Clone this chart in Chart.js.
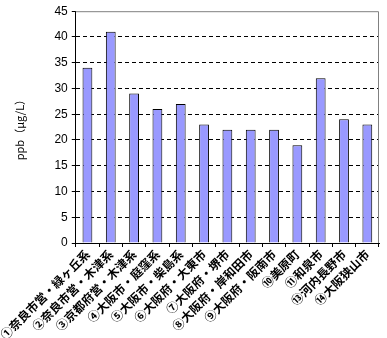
<!DOCTYPE html>
<html>
<head>
<meta charset="utf-8">
<script src="https://cdn.jsdelivr.net/npm/chart.js@4"></script>
<style>
  html, body { margin: 0; padding: 0; background: #fff; }
  #wrap { width: 387px; height: 338px; }
</style>
</head>
<body>
<div id="wrap"><canvas id="ppb-chart" width="387" height="338"></canvas></div>
<script>
const siteLabels = [
  "①奈良市営・緑ヶ丘系", "②奈良市営・木津系", "③京都府営・木津系",
  "④大阪市・庭窪系", "⑤大阪市・柴島系", "⑥大阪府・大東市",
  "⑦大阪府・堺市", "⑧大阪府・岸和田市", "⑨大阪府・阪南市",
  "⑩美原町", "⑪和泉市", "⑬河内長野市", "⑭大阪狭山市"
];
const ppbValues = [34, 41, 29, 26, 27, 23, 22, 22, 22, 19, 32, 24, 23];
const yMax = 45;
const yStep = 5;

// gray frame on top and right of the plot
const frame = {
  id: 'frame',
  afterDraw(chart) {
    const a = chart.chartArea;
    const ctx = chart.ctx;
    ctx.save();
    ctx.strokeStyle = '#808080';
    ctx.lineWidth = 1;
    ctx.beginPath();
    ctx.moveTo(a.left, a.top + 0.5);
    ctx.lineTo(a.right - 0.5, a.top + 0.5);
    ctx.lineTo(a.right - 0.5, a.bottom);
    ctx.stroke();
    ctx.restore();
  }
};

new Chart("ppb-chart", {
  type: "bar",
  data: {
    labels: siteLabels,
    datasets: [{
      data: ppbValues,
      backgroundColor: "#9999ff",
      borderColor: "#000000",
      borderWidth: 1,
      categoryPercentage: 1,
      barPercentage: 0.42,
    }],
  },
  options: {
    animation: false,
    responsive: false,
    layout: {
      padding: { left: 0, right: 8, top: 10, bottom: 0 }
    },
    plugins: {
      legend: { display: false },
      tooltip: { enabled: false },
    },
    scales: {
      x: {
        grid: {
          offset: true,
          drawOnChartArea: false,
          drawTicks: true,
          tickLength: 4,
          color: "#000",
        },
        border: { color: "#000", width: 1 },
        ticks: {
          autoSkip: false,
          maxRotation: 45,
          minRotation: 45,
          color: "#000",
          font: { family: "'Noto Sans CJK JP'", size: 12, weight: "bold" },
          padding: 0,
        },
        afterFit: (scale) => { scale.height = 95; },
      },
      y: {
        min: 0,
        max: yMax,
        ticks: {
          stepSize: yStep,
          color: "#000",
          font: { family: "'Liberation Sans'", size: 12 },
          padding: 4,
        },
        grid: {
          color: (c) => (c.tick && (c.tick.value === 0 || c.tick.value === yMax)) ? "rgba(0,0,0,0)" : "#000",
          tickColor: "#000",
          tickLength: 4,
          tickBorderDash: [],
        },
        border: { color: "#000", width: 1, dash: [4, 3] },
        title: {
          display: true,
          text: "ppb（μg/L）",
          color: "#000",
          font: { family: "'Noto Sans CJK JP'", size: 11 },
          padding: { top: 4, bottom: 6 },
        },
        afterFit: (scale) => { scale.width = 67; },
      },
    },
  },
  plugins: [frame],
});
</script>
</body>
</html>
